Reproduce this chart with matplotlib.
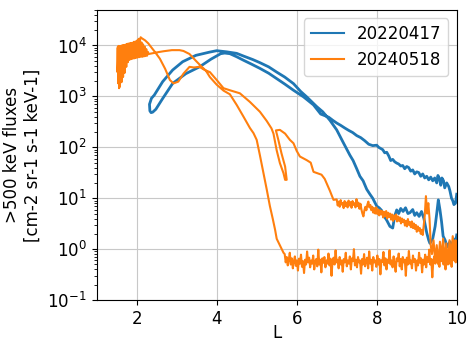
import matplotlib
matplotlib.use('Agg')
import matplotlib.pyplot as plt
import numpy as np

# 20220417 (blue): outer tail inward, inner loop, steep tail outward
blue_shallow_L = [10.0, 9.97, 9.93, 9.9, 9.87, 9.83, 9.8, 9.75, 9.7, 9.67, 9.63, 9.6,
                  9.57, 9.53, 9.5, 9.45, 9.4, 9.35, 9.3, 9.25, 9.2, 9.15, 9.1, 9.05,
                  9.0, 8.95, 8.9, 8.85, 8.8, 8.75, 8.7, 8.65, 8.6, 8.55, 8.5, 8.45,
                  8.4, 8.35, 8.3, 8.25, 8.2, 8.15, 8.1, 8.05, 8.0, 7.9, 7.8, 7.7,
                  7.6, 7.5, 7.4, 7.3, 7.2, 7.1, 7.0, 6.9, 6.8]
blue_shallow_flux = [12, 8, 7.5, 9, 10, 14, 17, 20, 16, 22, 25, 18,
                     24, 28, 20, 25, 22, 26, 23, 27, 25, 30, 27, 32,
                     33, 30, 36, 34, 40, 42, 38, 44, 43, 47, 49, 52,
                     58, 55, 68, 80, 78, 90, 95, 100, 110, 108, 115, 135,
                     155, 170, 195, 215, 240, 270, 300, 340, 390]

blue_inner_L = [6.6, 6.42, 6.17, 5.92, 5.7, 5.5, 5.3, 5.08, 4.87, 4.67, 4.5, 4.33,
                4.2, 4.1, 3.86, 3.57, 3.23, 2.9, 2.65, 2.48, 2.4, 2.36, 2.33, 2.32,
                2.37, 2.44, 2.65, 2.9, 3.15, 3.48, 3.82, 4.0, 4.25, 4.5, 4.67, 4.9,
                5.08, 5.3, 5.5, 5.7, 5.92, 6.1, 6.25, 6.5, 6.65]
blue_inner_flux = [450, 680, 980, 1320, 1750, 2240, 2850, 3550, 4300, 5130, 6000, 6900,
                   7100, 6900, 5400, 3800, 2800, 1800, 910, 560, 490, 480, 520, 700,
                   920, 1060, 1950, 3300, 4800, 6400, 7400, 7900, 7500, 7000, 6200, 5300,
                   4600, 3800, 3000, 2400, 1780, 1250, 980, 630, 500]

blue_steep_L = [6.83, 7.0, 7.15, 7.33, 7.41, 7.5, 7.58, 7.66, 7.75, 7.83, 7.9, 8.0,
                8.06, 8.12, 8.18, 8.25, 8.33, 8.4, 8.45, 8.5, 8.55, 8.6, 8.66, 8.72,
                8.78, 8.83, 8.9, 8.95, 9.0, 9.06, 9.12, 9.18, 9.25, 9.3, 9.33, 9.4,
                9.46, 9.5, 9.54, 9.58, 9.62, 9.66, 9.71, 9.76, 9.83, 9.88, 9.92, 9.96, 10.0]
blue_steep_flux = [340, 220, 130, 70, 55, 38, 27, 22, 15, 12, 10, 7,
                   6.5, 5.8, 4.5, 3.7, 2.8, 2.6, 4.5, 5.9, 5.0, 6.3, 5.5, 6.5,
                   5.0, 5.2, 6.0, 4.6, 5.2, 4.4, 5.5, 4.0, 2.1, 1.5, 1.3, 1.6,
                   2.8, 5.0, 9.3, 6.0, 3.5, 1.8, 1.5, 1.1, 1.4, 1.0, 1.6, 1.2, 1.9]

# 20240518 (orange)
# low noisy floor, L = 5.7 .. 10
orange_tail_flux = [0.80, 0.55, 0.70, 0.48, 0.62, 0.85, 0.50, 0.66, 0.42, 0.58,
                    0.72, 0.47, 0.60, 0.38, 0.65, 0.52, 0.78, 0.45, 0.58, 0.34,
                    0.62, 0.50, 0.90, 0.55, 0.68, 0.44, 0.60, 0.52, 0.75, 0.40,
                    0.58, 0.64, 0.46, 0.98, 0.50, 0.62, 0.35, 0.66, 0.54, 0.70,
                    0.44, 0.60, 0.52, 0.82, 0.48, 0.65, 0.30, 0.58, 0.68, 0.50,
                    0.95, 0.55, 0.62, 0.42, 0.70, 0.50, 0.60, 0.36, 0.64, 0.55,
                    0.85, 0.46, 0.60, 0.52, 0.72, 0.40, 0.66, 0.58, 1.00, 0.48,
                    0.62, 0.44, 0.70, 0.55, 0.60, 0.33, 0.64, 0.50, 0.80, 0.46,
                    0.58, 0.68, 0.42, 0.90, 0.52, 0.62, 0.38, 0.70, 0.55, 0.60,
                    0.45, 0.75, 0.50, 0.64, 0.32, 0.60, 0.56, 0.88, 0.48, 0.66,
                    0.40, 0.62, 0.54, 0.95, 0.50, 0.60, 0.44, 0.72, 0.52, 0.36,
                    0.66, 0.58, 0.82, 0.46, 0.64, 0.40, 0.70, 0.55, 0.62, 0.30,
                    0.68, 0.50, 0.92, 0.52, 0.60, 0.42, 0.75, 0.56, 0.64, 0.38,
                    0.60, 0.48, 0.85, 0.54, 0.66, 0.35, 0.62, 0.50, 0.78, 0.44,
                    0.70, 0.56, 0.98, 0.50, 0.64, 0.28, 0.60, 0.72, 0.52, 0.88,
                    0.55, 0.66, 0.45, 0.80, 0.58, 1.05, 0.50, 0.70, 0.40, 0.75,
                    0.60, 0.90, 0.52, 0.68, 0.45, 0.85, 0.62, 1.00, 0.55, 0.72]
orange_tail_L = np.linspace(5.7, 10.0, len(orange_tail_flux))

orange_in_L = [5.67, 5.6, 5.5, 5.46, 5.4, 5.33, 5.25, 5.17, 5.08, 5.0, 4.92, 4.83,
               4.67, 4.5, 4.33, 4.17, 4.0, 3.83, 3.73, 3.6, 3.48, 3.32, 3.17, 3.07,
               2.88, 2.67, 2.54, 2.38, 2.3]
orange_in_flux = [0.85, 1.1, 1.6, 2.4, 4, 7, 15, 31, 70, 140, 190, 240,
                  400, 680, 1100, 1300, 1700, 2400, 3200, 4000, 5000, 6800, 7800, 8100,
                  8100, 7700, 7400, 7000, 6800]

# dense back-and-forth region at low L
orange_blob_L = [2.28, 2.26, 2.24, 2.22, 2.20, 2.18, 2.16, 2.14, 2.12, 2.10,
                 2.08, 2.06, 2.04, 2.02, 2.00, 1.98, 1.96, 1.94, 1.92, 1.90,
                 1.88, 1.86, 1.84, 1.82, 1.80, 1.78, 1.76, 1.74, 1.72, 1.70,
                 1.68, 1.66, 1.64, 1.62, 1.60, 1.58, 1.57, 1.56, 1.55, 1.54,
                 1.53, 1.52,
                 1.53, 1.54, 1.55, 1.56, 1.57, 1.58, 1.59, 1.60, 1.61, 1.62,
                 1.63, 1.64, 1.65, 1.66, 1.67, 1.68, 1.69, 1.70, 1.71, 1.72,
                 1.73, 1.75, 1.77, 1.79, 1.81, 1.83, 1.85, 1.87, 1.89,
                 1.91, 1.93, 1.95, 1.97, 1.99, 2.01, 2.03, 2.05, 2.07, 2.09, 2.10]
orange_blob_flux = [7500, 6300, 8500, 6200, 9500, 6100, 10500, 6000, 11500, 6000,
                    12000, 5900, 12000, 5800, 11500, 5700, 11500, 5600, 11000, 5500,
                    11000, 5400, 10800, 5200, 10500, 4700, 10500, 3800, 10000, 2900,
                    10000, 2400, 9800, 1900, 9700, 1550, 9500, 1450, 9300, 1800,
                    9000, 3000,
                    9500, 2200, 9800, 1700, 9600, 1900, 9800, 2100, 9700, 2300,
                    10000, 2500, 9900, 2800, 10200, 3000, 10100, 3500, 10300, 4000,
                    10400, 5200, 10800, 5800, 11000, 6500, 11200, 7000, 11300,
                    7200, 11800, 7500, 12000, 8000, 12500, 9000, 13500, 10000, 13800, 14500]

orange_out_L = [2.12, 2.21, 2.29, 2.33, 2.46, 2.58, 2.71, 2.83, 2.92, 3.04,
                3.17, 3.32, 3.43, 3.57, 3.7, 3.83, 4.0, 4.17, 4.33, 4.58,
                4.83, 5.08, 5.25, 5.37, 5.42, 5.5, 5.58, 5.67, 5.71, 5.75,
                5.71, 5.62, 5.54, 5.48, 5.58, 5.71, 5.83, 5.92, 6.0, 6.08,
                6.25, 6.35, 6.42, 6.62, 6.7, 6.83, 6.92]
orange_out_flux = [14000, 12600, 11000, 10000, 7400, 5500, 3500, 2100, 1800, 1950,
                   2800, 3800, 3700, 3800, 3300, 3000, 2100, 1450, 1320, 1150,
                   780, 500, 330, 235, 185, 87, 49, 31, 23, 23,
                   42, 76, 141, 215, 220, 186, 140, 120, 85, 66,
                   56, 50, 33, 29, 24, 14, 9.3]

# upper noisy band, L = 7.0 .. 9.2
orange_band_flux = [9.5, 7.2, 8.6, 6.8, 9.2, 7.5, 8.0, 6.4, 8.8, 7.0,
                    8.2, 6.6, 9.0, 7.2, 8.4, 6.5, 8.8, 7.4, 8.0, 6.6,
                    9.6, 7.0, 8.2, 6.2, 7.8, 6.0, 5.0, 4.4, 5.8, 6.8,
                    5.8, 7.5, 8.6, 6.6, 7.4, 5.8, 6.8, 5.2, 6.4, 5.0,
                    6.6, 4.9, 6.0, 4.6, 5.8, 4.8, 5.6, 4.2, 5.4, 4.4,
                    5.6, 4.0, 5.2, 4.3, 5.0, 3.8, 4.8, 3.6, 4.6, 3.9,
                    4.8, 3.5, 4.4, 3.6, 4.2, 3.2, 4.0, 3.4, 3.8, 2.9,
                    3.6, 2.8, 3.9, 3.0, 3.4, 2.7, 3.5, 2.6, 3.2, 2.5,
                    3.0, 2.2, 2.8, 2.3, 2.6, 2.0, 2.4, 1.9, 3.0, 4.5]
orange_band_L = np.linspace(7.0, 9.2, len(orange_band_flux))

orange_end_L = [9.23, 9.26, 9.29, 9.32, 9.35, 9.38, 9.42, 9.46, 9.5, 9.54, 9.58,
                9.62, 9.66, 9.7, 9.74, 9.78, 9.82, 9.86, 9.9, 9.94, 9.97, 10.0]
orange_end_flux = [11, 5, 8, 4, 1.2, 0.8, 1.5, 0.6, 1.2, 0.5, 1.4,
                   0.7, 1.6, 0.6, 1.3, 0.5, 1.5, 0.7, 1.8, 0.6, 1.5, 0.8]

labels = ['20220417', '20240518']

blue_L = np.concatenate([blue_shallow_L, blue_inner_L, blue_steep_L])
blue_flux = np.concatenate([blue_shallow_flux, blue_inner_flux, blue_steep_flux])
orange_L = np.concatenate([orange_tail_L[::-1], orange_in_L, orange_blob_L,
                           orange_out_L, orange_band_L, orange_end_L])
orange_flux = np.concatenate([orange_tail_flux[::-1], orange_in_flux, orange_blob_flux,
                              orange_out_flux, orange_band_flux, orange_end_flux])

plt.rcParams['font.size'] = 12
fig = plt.figure(figsize=(4.67, 3.41), dpi=100)
ax = fig.add_axes([0.207, 0.12, 0.771, 0.851])
ax.plot(blue_L, blue_flux, color='#1f77b4', lw=2, label=labels[0])
ax.plot(orange_L, orange_flux, color='#ff7f0e', lw=1.5, label=labels[1])
ax.set_yscale('log')
ax.set_xlim(1, 10)
ax.set_ylim(0.1, 5e4)
ax.set_xticks([2, 4, 6, 8, 10])
ax.grid(True, color='#c8c8c8')
ax.set_xlabel('L', labelpad=-3)
ax.set_ylabel('>500 keV fluxes\n[cm-2 sr-1 s-1 keV-1]')
leg = ax.legend(loc='upper right')
for line in leg.get_lines():
    line.set_linewidth(1.5)
fig.savefig('out.png', dpi=100)
